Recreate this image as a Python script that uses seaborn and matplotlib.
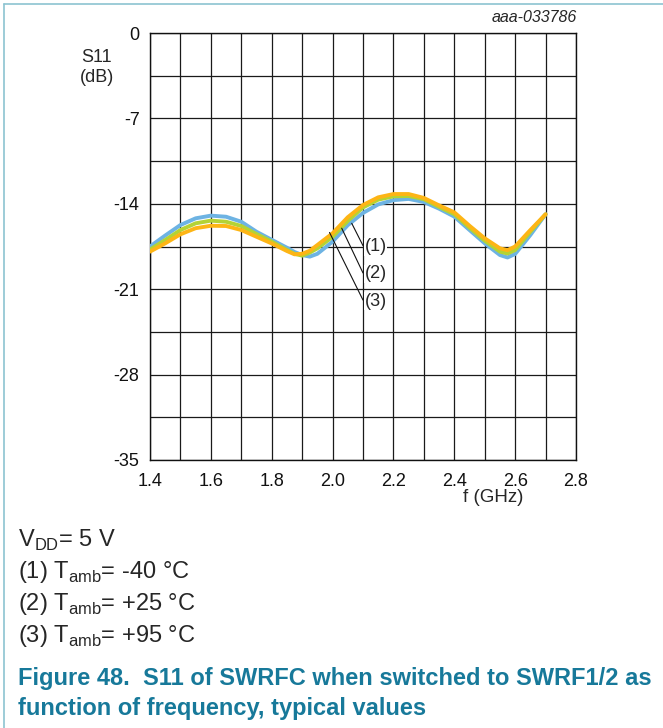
import numpy as np
import pandas as pd
import matplotlib
matplotlib.use("Agg")
import matplotlib.pyplot as plt
from matplotlib.lines import Line2D
import seaborn as sns

# ---- data ----
freq = [1.40, 1.45, 1.50, 1.55, 1.60, 1.65, 1.70, 1.75, 1.80, 1.85, 1.875, 1.90, 1.925,
        1.95, 2.00, 2.05, 2.10, 2.15, 2.20, 2.25, 2.30, 2.35, 2.40, 2.45, 2.50, 2.55,
        2.575, 2.60, 2.65, 2.70]
s11_m40 = [-17.50, -16.60, -15.74, -15.19, -14.97, -15.06, -15.47, -16.29, -16.95, -17.60,
           -17.95, -18.20, -18.33, -18.10, -17.10, -15.75, -14.75, -14.05, -13.70, -13.60,
           -13.85, -14.40, -15.05, -16.15, -17.24, -18.20, -18.40, -18.11, -16.56, -14.86]
s11_p25 = [-17.75, -16.97, -16.15, -15.60, -15.38, -15.47, -15.82, -16.48, -17.10, -17.79,
           -18.10, -18.25, -18.00, -17.65, -16.70, -15.40, -14.30, -13.66, -13.39, -13.36,
           -13.62, -14.26, -14.85, -15.96, -17.02, -17.92, -18.08, -17.79, -16.29, -14.86]
s11_p95 = [-17.92, -17.24, -16.50, -16.00, -15.80, -15.82, -16.15, -16.70, -17.25, -17.87,
           -18.14, -18.10, -17.85, -17.38, -16.42, -15.10, -14.10, -13.47, -13.20, -13.20,
           -13.52, -14.13, -14.70, -15.80, -16.83, -17.65, -17.80, -17.50, -16.15, -14.86]
curve_labels = ["(1)", "(2)", "(3)"]
curve_colors = ["#6DB3E3", "#B4D335", "#FDB515"]
x_ticks = [1.4, 1.6, 1.8, 2.0, 2.2, 2.4, 2.6, 2.8]
y_ticks = [0, -7, -14, -21, -28, -35]

df = pd.concat([
    pd.DataFrame({"f": freq, "s11": vals, "curve": lab})
    for vals, lab in zip([s11_m40, s11_p25, s11_p95], curve_labels)
], ignore_index=True)

sns.set_style("white")
plt.rcParams["font.family"] = ["Liberation Sans", "DejaVu Sans"]
plt.rcParams["mathtext.fontset"] = "custom"
plt.rcParams["mathtext.rm"] = "Liberation Sans"

W, H = 663, 728
fig = plt.figure(figsize=(W / 100, H / 100), dpi=100)
ax = fig.add_axes([150 / W, 1 - 460 / H, 426 / W, 427 / H])

sns.lineplot(data=df, x="f", y="s11", hue="curve", palette=dict(zip(curve_labels, curve_colors)),
             linewidth=2.8, ax=ax, legend=False, sort=False, zorder=3)

ax.set_xlim(1.4, 2.8)
ax.set_ylim(-35, 0)
ax.set_xticks(x_ticks)
ax.set_xticklabels([f"{v:.1f}" for v in x_ticks])
ax.set_xticks(np.arange(1.5, 2.8, 0.2), minor=True)
ax.set_yticks(y_ticks)
ax.set_yticklabels([str(v) for v in y_ticks])
ax.set_yticks(np.arange(-31.5, 0, 7), minor=True)
ax.grid(which="both", color="#1a1a1a", linewidth=0.9)
ax.set_axisbelow(True)
ax.tick_params(which="both", length=0, labelsize=13, colors="#111111")
ax.tick_params(axis="x", pad=9)
ax.tick_params(axis="y", pad=7.5)
ax.set_xlabel("")
ax.set_ylabel("")
for s in ax.spines.values():
    s.set_color("#111111")
    s.set_linewidth(1.0)

# leader lines and curve labels
starts = [(2.063, -15.6), (2.030, -16.0), (1.990, -16.35)]
ends_y = [-17.43, -19.67, -21.89]
label_y = [-17.54, -19.75, -21.97]
for (sx, sy), ey, ly, lab in zip(starts, ends_y, label_y, curve_labels):
    ax.plot([sx, 2.1], [sy, ey], color="#111111", lw=0.8, zorder=4)
    ax.text(2.106, ly, lab, fontsize=13, ha="left", va="center", zorder=5,
            bbox=dict(facecolor="white", edgecolor="none", pad=0.3))

def ftext(x, y, s, **kw):
    fig.text(x / W, 1 - y / H, s, **kw)

ftext(577, 18, "aaa-033786", fontsize=11.5, style="italic", ha="right", va="center")
ftext(97, 58, "S11", fontsize=13, ha="center", va="center")
ftext(97, 78, "(dB)", fontsize=13, ha="center", va="center")
ftext(493, 498, "f (GHz)", fontsize=13.5, ha="center", va="center")

leg_size = 17
ftext(18, 540, r"V$_{\mathregular{DD}}$= 5 V", fontsize=leg_size, ha="left", va="center")
ftext(18, 572, r"(1) T$_{\mathregular{amb}}$= -40 °C", fontsize=leg_size, ha="left", va="center")
ftext(18, 604, r"(2) T$_{\mathregular{amb}}$= +25 °C", fontsize=leg_size, ha="left", va="center")
ftext(18, 636, r"(3) T$_{\mathregular{amb}}$= +95 °C", fontsize=leg_size, ha="left", va="center")

cap_color = "#17799A"
ftext(18, 679, "Figure 48.  S11 of SWRFC when switched to SWRF1/2 as", fontsize=17,
      fontweight="bold", color=cap_color, ha="left", va="center")
ftext(18, 709, "function of frequency, typical values", fontsize=17,
      fontweight="bold", color=cap_color, ha="left", va="center")

# frame lines
border = "#8CC3D1"
fig.add_artist(Line2D([4 / W, 1], [1 - 4 / H, 1 - 4 / H], transform=fig.transFigure, color=border, lw=1.2))
fig.add_artist(Line2D([4 / W, 4 / W], [0, 1 - 4 / H], transform=fig.transFigure, color=border, lw=1.2))

fig.savefig("out.png", dpi=100)
